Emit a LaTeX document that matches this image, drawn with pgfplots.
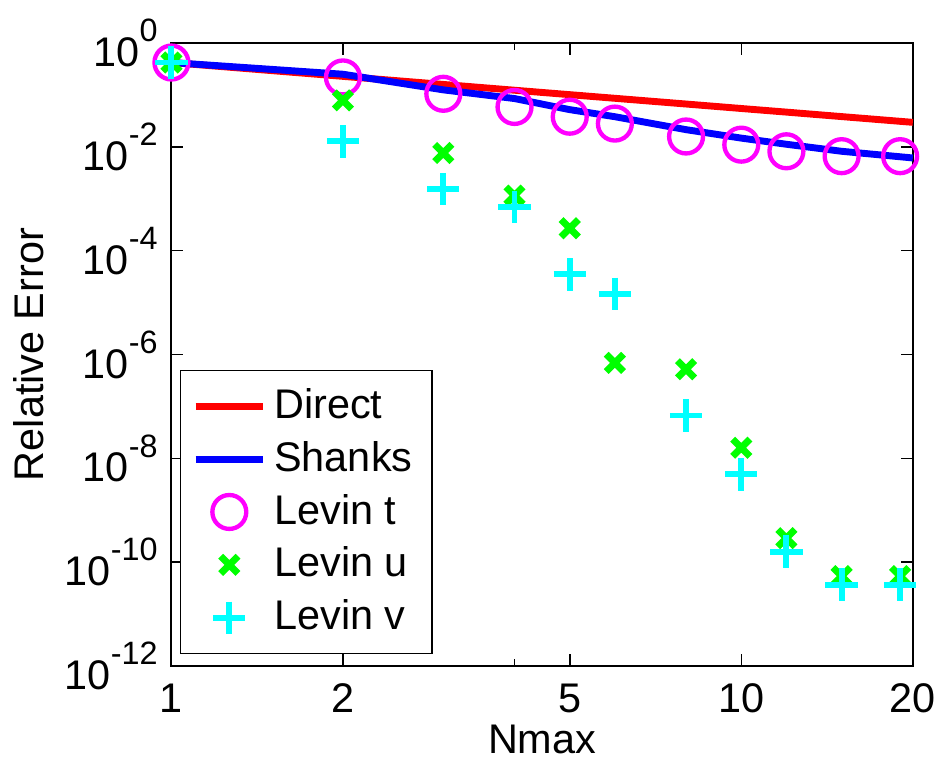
\documentclass[border=0pt]{standalone}
\usepackage{pgfplots}
\pgfplotsset{compat=1.18}
\usepackage{fontspec}
\setmainfont{Liberation Sans}
\setsansfont{Liberation Sans}

\definecolor{mred}{rgb}{1,0,0}
\definecolor{mblue}{rgb}{0,0,1}
\definecolor{mmag}{rgb}{1,0,1}
\definecolor{mgreen}{rgb}{0,1,0}
\definecolor{mcyan}{rgb}{0,1,1}

\begin{document}
\begin{tikzpicture}
\begin{axis}[
    scale only axis,
    width=188pt, height=158pt,
    xmode=log, ymode=log,
    xmin=1, xmax=20,
    ymin=1e-12, ymax=1,
    xtick={1,2,5,10,20},
    xticklabels={1,2,5,10,20},
    minor xtick={4},
    ytick={1e-12,1e-10,1e-8,1e-6,1e-4,1e-2,1},
    yminorticks=false,
    tick align=inside,
    major tick length=3pt,
    minor tick length=1.8pt,
    tick style={black, line width=0.4pt},
    axis line style={line width=0.5pt},
    font=\fontsize{10.5}{12.6}\selectfont,
    ticklabel style={font=\fontsize{10.5}{12.6}\selectfont},
    xticklabel style={yshift=-1pt},
    /pgf/number format/assume math mode=true,
    log number format basis/.code 2 args={10\raisebox{6.3pt}{\fontsize{8.2}{9}\selectfont\pgfmathprintnumber[int detect]{#2}}},
    xlabel={Nmax},
    ylabel={Relative Error},
    xlabel style={yshift=3.8pt},
    ylabel style={yshift=-1.5pt},
    clip=false,
    legend cell align=left,
    legend style={
        at={(0.011,0.019)}, anchor=south west,
        draw=black, line width=0.4pt,
        font=\fontsize{10.5}{12.6}\selectfont,
        row sep=0.3pt,
        inner xsep=3pt, inner ysep=2.5pt,
    },
    every axis legend/.append style={/tikz/every even column/.append style={column sep=2pt}},
]
% Direct
\addplot[mred, line width=1.75pt, mark=none] coordinates {
(1,0.42) (2,0.2275) (3,0.159) (4,0.123) (5,0.101) (6,0.086) (8,0.0667)
(10,0.0547) (12,0.0466) (15,0.0382) (20,0.0296)
};
\addlegendentry{Direct}
% Shanks
\addplot[mblue, line width=1.75pt, mark=none] coordinates {
(1,0.42) (2,0.25) (3,0.125) (4,0.085) (5,0.052) (6,0.038) (8,0.0214)
(10,0.0147) (12,0.0112) (15,0.0082) (20,0.0061)
};
\addlegendentry{Shanks}
% Levin t
\addplot[only marks, mark=o, mark size=4.3pt, mmag, line width=1.1pt] coordinates {
(1,0.42) (2,0.217) (3,0.105) (4,0.0586) (5,0.038) (6,0.028) (8,0.0158)
(10,0.011) (12,0.0082) (15,0.0066) (19,0.0066)
};
\addlegendentry{Levin t}
% Levin u
\addplot[only marks, mark=x, mark size=3.1pt, mgreen, line width=1.75pt] coordinates {
(1,0.42) (2,0.0785) (3,0.0076) (4,0.00115) (5,2.7e-4) (6,6.9e-7) (8,5.2e-7)
(10,1.6e-8) (12,2.9e-10) (15,5.4e-11) (19,5.4e-11)
};
\addlegendentry{Levin u}
% Levin v
\addplot[only marks, mark=+, mark size=4.1pt, mcyan, line width=1.5pt] coordinates {
(1,0.42) (2,0.0127) (3,0.00154) (4,6.9e-4) (5,3.5e-5) (6,1.47e-5) (8,6.7e-8)
(10,4.9e-9) (12,1.6e-10) (15,3.7e-11) (19,3.7e-11)
};
\addlegendentry{Levin v}
\end{axis}
\path ([yshift=1.5pt]current bounding box.north);
\end{tikzpicture}
\end{document}
